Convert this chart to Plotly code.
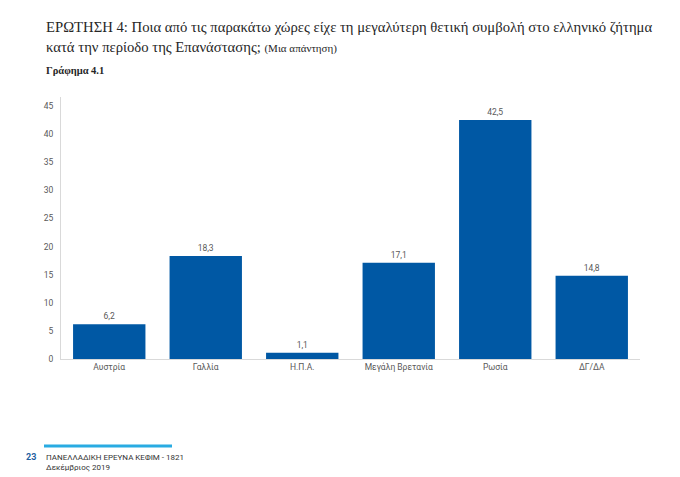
import plotly.graph_objects as go

# Data
countries = ["Αυστρία", "Γαλλία", "Η.Π.Α.", "Μεγάλη Βρετανία", "Ρωσία", "ΔΓ/ΔΑ"]
percentages = [6.2, 18.3, 1.1, 17.1, 42.5, 14.8]
y_ticks = [0, 5, 10, 15, 20, 25, 30, 35, 40, 45]

bar_color = "#0058a4"
text_color = "#595959"
axis_color = "#d9d9d9"

# page body has an 8px margin, so lay things out in page pixels minus that offset
OFF = 8
W, H = 680 - OFF, 477 - OFF
pl, pr, pt, pb = 61 - OFF, 40, 97 - OFF, 118
pw, ph = W - pl - pr, H - pt - pb


def px_to_paper(px, py):
    # page pixel (from reference) -> paper coords
    return (px - OFF - pl) / pw, (H - pb - (py - OFF)) / ph


fig = go.Figure()
fig.add_trace(
    go.Bar(
        x=countries,
        y=percentages,
        marker=dict(color=bar_color, line=dict(width=0)),
        texttemplate="%{y:.1f}",
        textposition="outside",
        textfont=dict(size=8.5, color=text_color, family="Roboto"),
        cliponaxis=False,
        showlegend=False,
    )
)

fig.update_xaxes(
    showline=True, linecolor=axis_color, linewidth=1,
    showgrid=False, ticks="",
    tickfont=dict(size=8.5, color=text_color, family="Roboto"),
)
fig.update_yaxes(
    range=[0, 46.6], tickvals=y_ticks,
    showline=True, linecolor=axis_color, linewidth=1,
    showgrid=False, zeroline=False, ticks="",
    tickfont=dict(size=8.5, color=text_color, family="Roboto"),
    ticklabelstandoff=5,
)

annotations = [
    # title
    (44, 27, "ΕΡΩΤΗΣΗ 4: Ποια από τις παρακάτω χώρες είχε τη μεγαλύτερη θετική συμβολή στο ελληνικό ζήτημα",
     dict(size=14.7, color="#262626", family="Liberation Serif")),
    (44, 47, "κατά την περίοδο της Επανάστασης; <span style='font-size:11px'>(Μια απάντηση)</span>",
     dict(size=14.7, color="#262626", family="Liberation Serif")),
    (44, 70, "<b>Γράφημα 4.1</b>",
     dict(size=10.5, color="#262626", family="Liberation Serif")),
    # footer
    (24, 457, "<b>23</b>", dict(size=9, color="#1f5fa0", family="Roboto")),
    (44, 457, "ΠΑΝΕΛΛΑΔΙΚΗ ΕΡΕΥΝΑ ΚΕΦΙΜ - 1821", dict(size=8, color="#333333", family="Roboto")),
    (44, 467, "Δεκέμβριος 2019", dict(size=8, color="#333333", family="Roboto")),
]
for x, y, text, font in annotations:
    ax, ay = px_to_paper(x, y)
    fig.add_annotation(
        x=ax, y=ay, xref="paper", yref="paper",
        text=text, font=font, showarrow=False,
        xanchor="left", yanchor="middle",
    )

# footer blue rule
x0, y0 = px_to_paper(44, 446)
x1, _ = px_to_paper(172, 446)
fig.add_shape(
    type="line", xref="paper", yref="paper",
    x0=x0, x1=x1, y0=y0, y1=y0,
    line=dict(color="#29abe2", width=3),
)

fig.update_layout(
    width=W, height=H,
    margin=dict(l=pl, r=pr, t=pt, b=pb),
    plot_bgcolor="white", paper_bgcolor="white",
    bargap=0.25,
    separators=",.",
    font=dict(family="Roboto"),
)

fig.write_html("out.html")
